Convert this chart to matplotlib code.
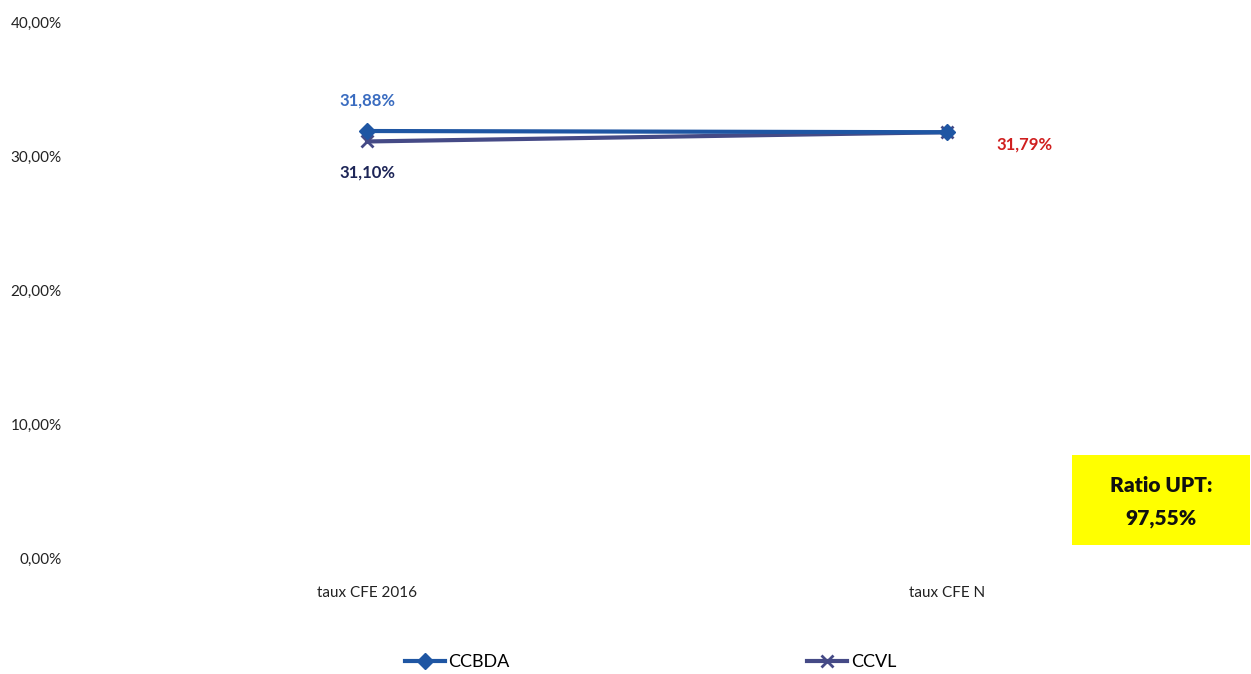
import matplotlib.pyplot as plt
from matplotlib.patches import Rectangle
from matplotlib.ticker import FuncFormatter

# données
CATEGORIES = ["taux CFE 2016", "taux CFE N"]
CCBDA = [31.88, 31.79]
CCVL = [31.10, 31.79]
Y_TICKS = [0, 10, 20, 30, 40]
RATIO_TEXT = "Ratio UPT:\n97,55%"

plt.rcParams["font.family"] = ["Lato", "DejaVu Sans"]

fig = plt.figure(figsize=(12.51, 6.74), dpi=100)
ax = fig.add_axes([0.0616, 0.172, 0.9272, 0.795])

x = range(len(CATEGORIES))
ax.plot(x, CCVL, color="#454a86", lw=3, marker="x", ms=9, mew=2, label="CCVL", zorder=3)
ax.plot(x, CCBDA, color="#1f56a3", lw=3, marker="D", ms=8, label="CCBDA", zorder=4)

ax.set_xlim(-0.5, 1.5)
ax.set_ylim(0, 40)
ax.set_yticks(Y_TICKS)
ax.yaxis.set_major_formatter(FuncFormatter(lambda v, p: f"{v:.2f}%".replace(".", ",")))
ax.set_xticks(list(x))
ax.set_xticklabels(CATEGORIES)
ax.tick_params(length=0, labelsize=11, colors="#222222")
ax.tick_params(axis="x", pad=20)
ax.tick_params(axis="y", pad=11)
for s in ax.spines.values():
    s.set_visible(False)

fmt = lambda v: f"{v:.2f}%".replace(".", ",")
ax.annotate(fmt(CCBDA[0]), (0, CCBDA[0]), xytext=(0, 22), textcoords="offset points",
            ha="center", va="center", color="#3a6cc0", fontsize=12, fontweight="bold")
ax.annotate(fmt(CCVL[0]), (0, CCVL[0]), xytext=(0, -22), textcoords="offset points",
            ha="center", va="center", color="#1d2557", fontsize=12, fontweight="bold")
ax.annotate(fmt(CCBDA[1]), (1, CCBDA[1]), xytext=(56, -9), textcoords="offset points",
            ha="center", va="center", color="#d01f1f", fontsize=12, fontweight="bold")

handles, labels = ax.get_legend_handles_labels()
fig.legend(handles[::-1], labels[::-1], loc="center", bbox_to_anchor=(0.52, 0.018),
           ncol=2, frameon=False, fontsize=13, columnspacing=16.5, handlelength=2.2,
           handletextpad=0.2)

fig.patches.append(Rectangle((1072 / 1251, 1 - 545 / 674), 178 / 1251, 90 / 674,
                             transform=fig.transFigure, facecolor="#ffff00",
                             edgecolor="none", zorder=1))
fig.text(1161 / 1251, 1 - 502 / 674, RATIO_TEXT, ha="center", va="center",
         fontsize=15, fontweight="heavy", color="#111111", linespacing=1.85)

fig.savefig("out.png", dpi=100)
